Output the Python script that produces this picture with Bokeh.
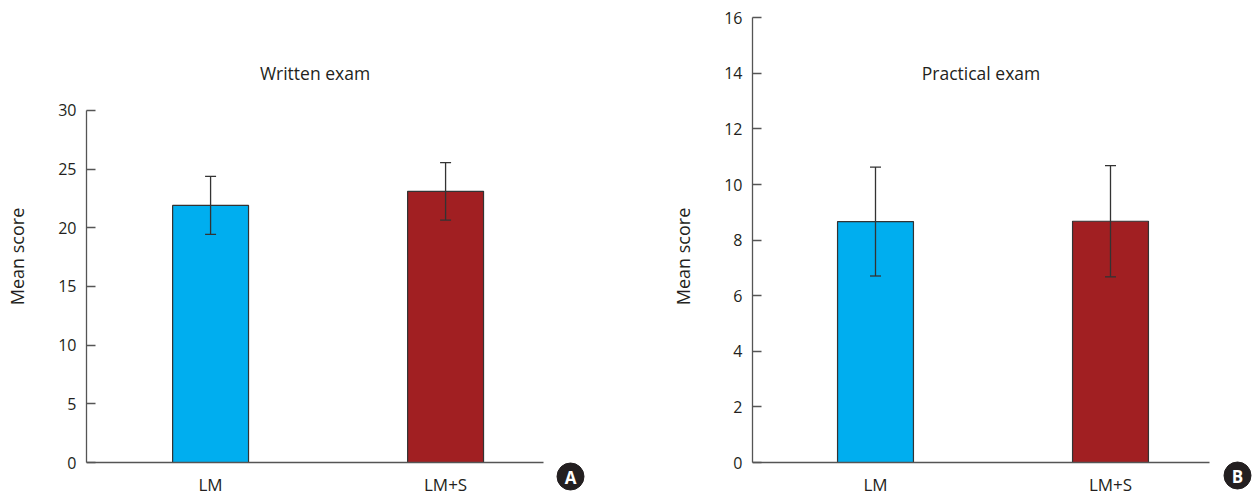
from bokeh.plotting import figure
from bokeh.models import Range1d, Whisker, TeeHead, Label, ColumnDataSource, FixedTicker
from bokeh.core.properties import value
from bokeh.layouts import row
from bokeh.embed import file_html
from bokeh.resources import INLINE

categories = ["LM", "LM+S"]
written_mean = [21.9, 23.1]
written_sd = [2.47, 2.45]
practical_mean = [8.67, 8.68]
practical_sd = [1.96, 2.0]
written_ticks = [0, 5, 10, 15, 20, 25, 30]
practical_ticks = [0, 2, 4, 6, 8, 10, 12, 14, 16]
colors = ["#00AEEF", "#A11F22"]

FONT = "Open Sans"
H = 495
TOP = 17           # frame top inside figure
ZERO = 462         # y=0 position inside figure
XPX = 235          # px per category step
INK = "#231f20"


def panel(title, means, sds, yticks, ppx, badge, width, bl, br, xstart, axis_px, badge_dx, badge_dy):
    xs = list(range(1, len(categories) + 1))
    ytop = (ZERO - TOP) / ppx
    ybot = -(H - ZERO) / ppx
    frame_w = width - bl - br
    xend = xstart + frame_w / XPX
    ax_end = xstart + axis_px / XPX
    p = figure(width=width, height=H, output_backend="svg", toolbar_location=None,
               x_range=Range1d(xstart, xend), y_range=Range1d(ybot, ytop),
               min_border_left=bl, min_border_right=br, min_border_top=TOP, min_border_bottom=0)
    p.outline_line_color = None
    p.xgrid.visible = False
    p.ygrid.visible = False
    src = ColumnDataSource(dict(x=xs, top=means, color=colors,
                                upper=[m + s for m, s in zip(means, sds)],
                                lower=[m - s for m, s in zip(means, sds)]))
    p.vbar(x="x", top="top", width=0.323, bottom=0, source=src, fill_color="color",
           line_color="#333333", line_width=1.2)
    w = Whisker(base="x", upper="upper", lower="lower", source=src,
                line_color="#333333", line_width=1.3, level="overlay",
                upper_head=TeeHead(size=11, line_color="#333333", line_width=1.3),
                lower_head=TeeHead(size=11, line_color="#333333", line_width=1.3))
    p.add_layout(w)

    ya = p.yaxis[0]
    ya.ticker = FixedTicker(ticks=yticks)
    ya.bounds = (yticks[0], yticks[-1])
    ya.major_tick_in = 9
    ya.major_tick_out = 0
    ya.minor_tick_line_color = None
    ya.axis_line_color = "#555555"
    ya.axis_line_width = 1.3
    ya.major_tick_line_color = "#555555"
    ya.major_tick_line_width = 1.3
    ya.major_label_text_font = FONT
    ya.major_label_text_font_size = "16px"
    ya.major_label_text_color = INK
    ya.major_label_standoff = 10
    ya.axis_label = "Mean score"
    ya.axis_label_text_font = FONT
    ya.axis_label_text_font_size = "18px"
    ya.axis_label_text_font_style = "normal"
    ya.axis_label_text_color = INK
    ya.axis_label_standoff = 26

    xa = p.xaxis[0]
    xa.fixed_location = 0
    xa.ticker = FixedTicker(ticks=xs)
    xa.major_label_overrides = {x: c for x, c in zip(xs, categories)}
    xa.bounds = (xstart, ax_end)
    xa.major_tick_in = 0
    xa.major_tick_out = 0
    xa.minor_tick_line_color = None
    xa.axis_line_color = "#555555"
    xa.axis_line_width = 1.3
    xa.major_label_text_font = FONT
    xa.major_label_text_font_size = "17px"
    xa.major_label_text_color = INK
    xa.major_label_standoff = 10

    p.add_layout(Label(x=(xstart + ax_end) / 2, y=(ZERO - 72) / ppx, text=title,
                       text_align="center", text_baseline="middle",
                       text_font=FONT, text_font_size="17.5px", text_color=INK))
    bx = [xstart + badge_dx / XPX]
    by = [-badge_dy / ppx]
    p.scatter(x=bx, y=by, size=27, marker="circle", fill_color=INK, line_color=INK)
    p.text(x=bx, y=by, text=[badge], text_align="center", text_baseline="middle",
           text_font=value(FONT), text_font_size="17px", text_font_style="bold",
           text_color="white", y_offset=1)
    return p


pa = panel("Written exam", written_mean, written_sd, written_ticks, 11.74, "A",
           620, 86, 20, 0.472, 457, 570 - 86, 476 - 462)
pb = panel("Practical exam", practical_mean, practical_sd, practical_ticks, 444.7 / 16, "B",
           637, 132, 0, 0.4766, 457, 1237 - 752, 475 - 462)

p = row(pa, pb)
open("out.html", "w").write(file_html(p, INLINE))
